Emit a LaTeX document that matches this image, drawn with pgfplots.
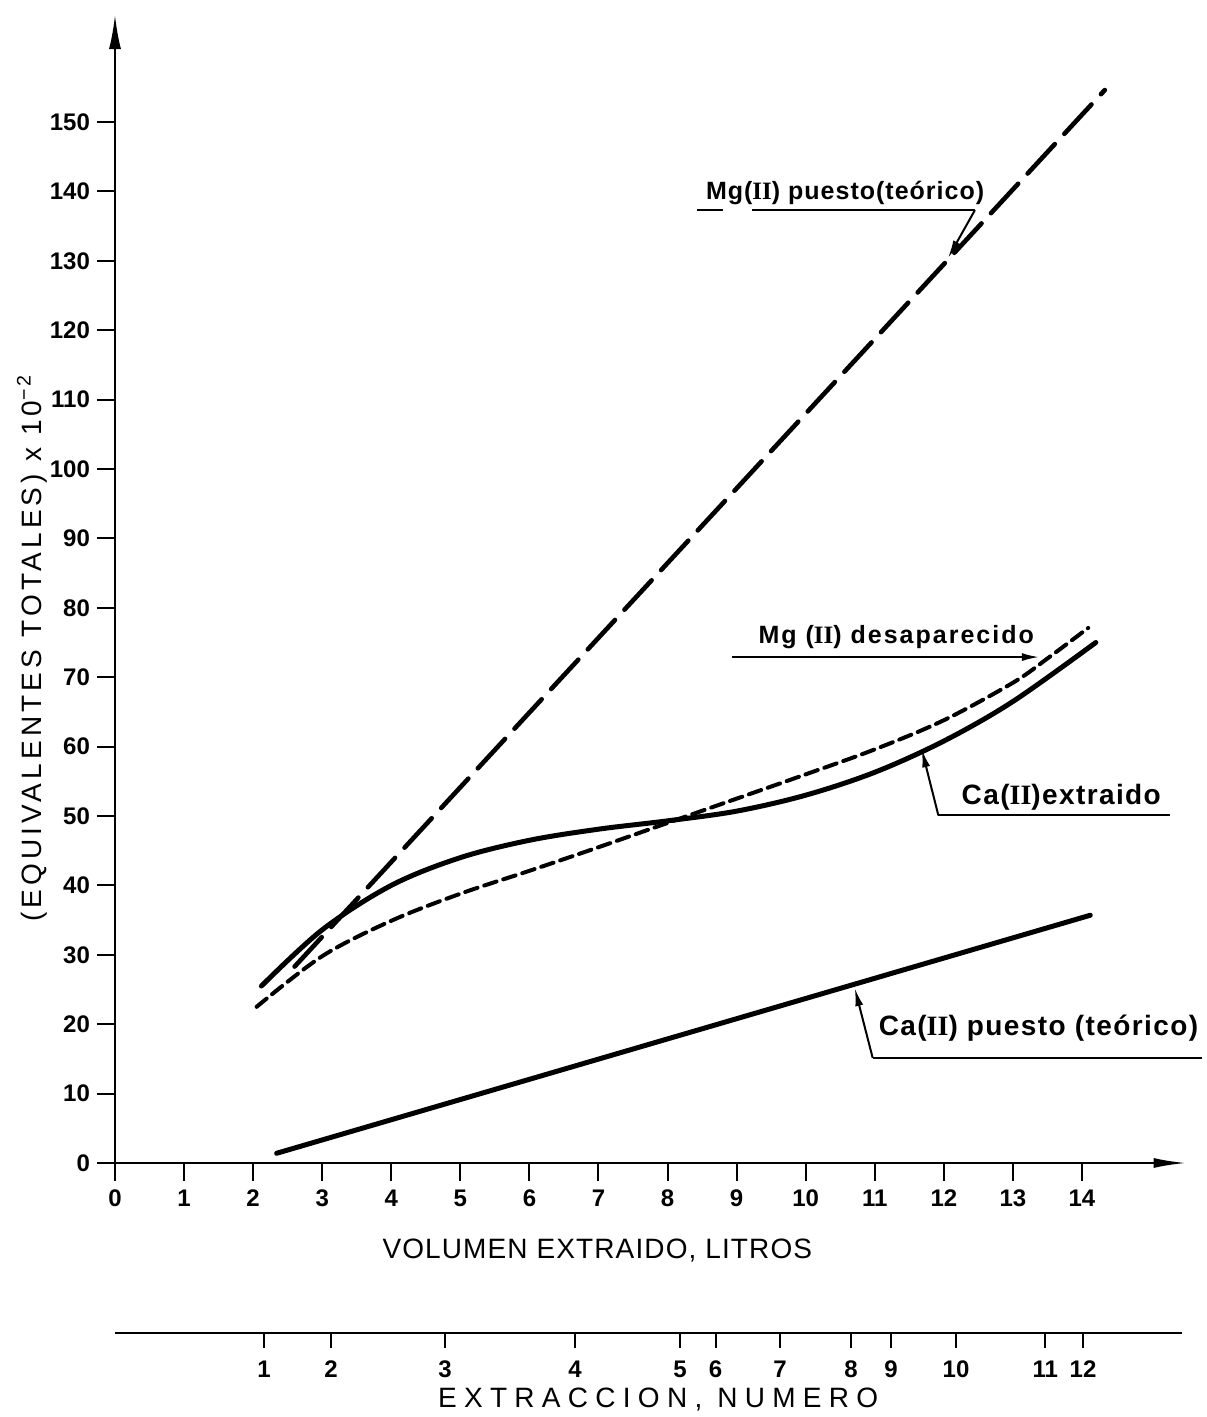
\documentclass[border=0pt]{standalone}
\usepackage{fontspec}
\setmainfont{Liberation Sans}
\newfontfamily\romanI{Liberation Serif}
\usepackage{pgfplots}
\pgfplotsset{compat=1.18}
\usetikzlibrary{arrows.meta}
\newcommand{\II}{{\romanI\bfseries II}}
\newcommand{\fA}[1]{\fontsize{#1pt}{#1pt}\selectfont}
\begin{document}
\begin{tikzpicture}
\path[use as bounding box] (-57.5pt,-127pt) rectangle (545.5pt,581.5pt);
\begin{axis}[
  at={(0,0)}, anchor=origin,
  x=34.535pt, y=3.47pt,
  xmin=0, xmax=15.5, ymin=0, ymax=165.4,
  axis lines=left,
  x axis line style={line width=1pt,-{Latex[length=16pt,width=5pt]}},
  y axis line style={line width=1pt,-{Latex[length=17pt,width=6pt]}},
  xtick={0,1,...,14}, ytick={0,10,...,150},
  tick align=outside, major tick length=9pt,
  tick style={line width=1pt, black},
  /pgf/number format/assume math mode=true,
  tick label style={font=\fA{12}\bfseries},
  x tick label style={yshift=-1pt},
  xlabel={VOLUMEN EXTRAIDO, LITROS},
  xlabel style={at={(axis description cs:0.4505,-0.0758)}, anchor=center, font=\fA{14}\addfontfeatures{LetterSpace=4}},
  ylabel={(EQUIVALENTES TOTALES) x 10\textsuperscript{−2}},
  ylabel style={at={(axis description cs:-0.0776,0.4486)}, anchor=center, font=\fA{14}\addfontfeatures{LetterSpace=15}},
  clip=false,
]
% Mg(II) puesto (teorico)
\addplot[line width=2.3pt, line cap=round, dash pattern=on 20pt off 7pt] coordinates {(2.6,28.3) (14.33,154.6)};
% Ca(II) extraido
\addplot[line width=2.5pt, line cap=round, smooth, tension=0.55] coordinates {
 (2.12,25.5) (3,33.6) (4,40.0) (5,44.0) (6,46.5) (7,48.1)
 (8,49.3) (9,50.7) (10,53.0) (11,56.3) (12,60.8) (13,66.5) (14.2,75.0)};
% Mg(II) desaparecido
\addplot[line width=2pt, line cap=round, dash pattern=on 6.5pt off 3.5pt, smooth, tension=0.55] coordinates {
 (2.05,22.5) (3,29.8) (4,34.9) (5,38.8) (6,42.1)
 (7,45.5) (8,49.0) (9,52.5) (10,56.0) (11,59.6) (12,63.8) (13,69.2) (13.5,72.7) (14.09,77.1)};
% Ca(II) puesto (teorico)
\addplot[line width=2.5pt, line cap=round] coordinates {(2.34,1.4) (14.12,35.7)};

% annotations
\node[anchor=base, inner sep=0pt, font=\fA{12.5}\bfseries\addfontfeatures{LetterSpace=4}] at (axis cs:10.57,138.8) {Mg(\II) puesto(teórico)};
\draw[line width=1.2pt] (axis cs:8.43,137.3) -- (axis cs:8.80,137.3);
\draw[line width=1.2pt] (axis cs:9.22,137.3) -- (axis cs:12.45,137.3);
\draw[line width=1pt,-{Latex[length=9pt,width=4pt]}] (axis cs:12.45,137.3) -- (axis cs:12.06,130.4);

\node[anchor=base, inner sep=0pt, font=\fA{12.5}\bfseries\addfontfeatures{LetterSpace=8}] at (axis cs:11.31,74.9) {Mg (\II) desaparecido};
\draw[line width=1.2pt,-{Latex[length=9pt,width=4pt]}] (axis cs:8.93,72.9) -- (axis cs:13.39,72.9);

\node[anchor=base, inner sep=0pt, font=\fA{14}\bfseries\addfontfeatures{LetterSpace=5}] at (axis cs:13.70,51.6) {Ca(\II)extraido};
\draw[line width=1.2pt] (axis cs:11.92,50.1) -- (axis cs:15.27,50.1);
\draw[line width=1pt,-{Latex[length=9pt,width=4pt]}] (axis cs:11.92,50.1) -- (axis cs:11.68,59.6);

\node[anchor=base, inner sep=0pt, font=\fA{14}\bfseries\addfontfeatures{LetterSpace=5}] at (axis cs:13.37,18.44) {Ca(\II) puesto (teórico)};
\draw[line width=1.2pt] (axis cs:10.97,15.13) -- (axis cs:15.74,15.13);
\draw[line width=1pt,-{Latex[length=9pt,width=4pt]}] (axis cs:10.97,15.13) -- (axis cs:10.71,25.2);
\end{axis}

\begin{axis}[
  at={(0,-85pt)}, anchor=origin,
  x=34.535pt, y=10pt,
  xmin=0, xmax=15.45, ymin=0, ymax=1,
  axis x line=bottom, hide y axis,
  x axis line style={line width=1pt,-},
  xtick={2.157,3.127,4.778,6.660,8.180,8.694,9.628,10.656,11.235,12.176,13.47,14.015},
  xticklabels={1,2,3,4,5,6,7,8,9,10,11,12},
  tick align=outside, major tick length=7.5pt,
  tick style={line width=1pt, black},
  /pgf/number format/assume math mode=true,
  tick label style={font=\fA{12}\bfseries, yshift=-3pt},
  xlabel={EXTRACCION, NUMERO},
  xlabel style={at={(axis description cs:0.509,-3.35)}, anchor=center, font=\fA{14}\addfontfeatures{LetterSpace=26}},
]
\addplot[draw=none] coordinates {(1,0.5)};
\end{axis}
\end{tikzpicture}
\end{document}
